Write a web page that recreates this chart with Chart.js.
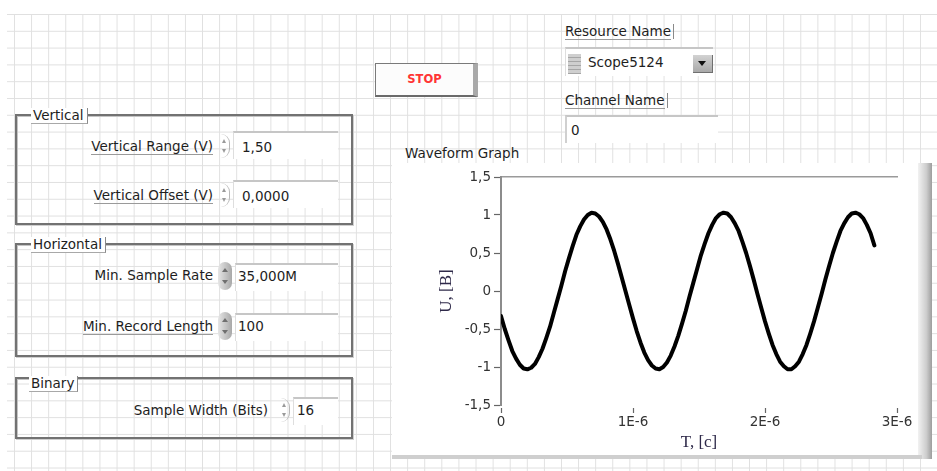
<!DOCTYPE html>
<html lang="ru">
<head>
<meta charset="utf-8">
<title>Waveform Graph</title>
<script src="https://cdn.jsdelivr.net/npm/chart.js@4.4.1/dist/chart.umd.min.js"></script>
<style>
  html, body { margin: 0; padding: 0; }
  body { width: 937px; height: 471px; position: relative; overflow: hidden; background: #fff;
         font-family: "DejaVu Sans", sans-serif; font-size: 13.5px; color: #1e1e1e; }
  .abs { position: absolute; white-space: nowrap; line-height: 16px; }
  #grid { position: absolute; left: 7px; top: 14px; right: 0; bottom: 0;
          background-image: linear-gradient(to right, #e0e0e0 1px, transparent 1px),
                            linear-gradient(to bottom, #e0e0e0 1px, transparent 1px);
          background-size: 17.1px 16.8px; background-position: 7px 0; }
  .frame { position: absolute; box-sizing: border-box; border: 2px solid #727272;
           box-shadow: inset 1px 1px 0 #c4c4c4, 1px 1px 0 #cfcfcf; }
  .tab { position: absolute; background: #fff; line-height: 15px; padding: 0 3px 0 2px;
         border-right: 1px solid #8a8a8a; border-bottom: 1px solid #a8a8a8; }
  .ul { border-bottom: 1px solid #9a9a9a; }
  .num { position: absolute; box-sizing: border-box; background: #fff; height: 28px;
         border-top: 2px solid #c6c6c6; border-left: 1px solid #dedede; }
  .spin { position: absolute; width: 11px; height: 24px; box-sizing: border-box;
          border-right: 1.5px solid #b8b8b8; border-radius: 0 9px 9px 0; }
  .spin::before, .spin::after { content: ""; position: absolute; left: 3px;
          border-left: 2.5px solid transparent; border-right: 2.5px solid transparent; }
  .spin::before { top: 5px; border-bottom: 4px solid #9a9a9a; }
  .spin::after { bottom: 5px; border-top: 4px solid #9a9a9a; }
  .knob { position: absolute; width: 14px; height: 28px; border-radius: 7px;
          background: linear-gradient(to right, #e6e6e6, #a8a8a8); }
  .knob::before, .knob::after { content: ""; position: absolute; left: 4px;
          border-left: 3px solid transparent; border-right: 3px solid transparent; }
  .knob::before { top: 6px; border-bottom: 4px solid #6f6f6f; }
  .knob::after { bottom: 6px; border-top: 4px solid #6f6f6f; }
  #stop { position: absolute; left: 375px; top: 63px; width: 103px; height: 34px; box-sizing: border-box;
          background: #fcfcfc; border: 1px solid #7a7a7a; border-right: 5px solid #a9a9a9;
          border-bottom: 2px solid #6a6a6a; color: #ff3535; font-weight: bold; font-size: 11.5px;
          text-align: center; line-height: 31px; }
  #ring { position: absolute; left: 565px; top: 47px; width: 148px; height: 29px; box-sizing: border-box;
          background: #fff; border-top: 2px solid #c6c6c6; border-left: 1px solid #dedede; }
  #ring .io { position: absolute; left: 2px; top: 5px; width: 13px; height: 20px;
              background: repeating-linear-gradient(to bottom, #cfcfcf 0 3px, #a6a6a6 3px 4px); }
  #ring .btn { position: absolute; left: 127px; top: 6px; width: 19px; height: 17px;
               background: linear-gradient(#d2d2d2, #a9a9a9); border-right: 1px solid #707070; border-bottom: 1px solid #707070; }
  #ring .btn::after { content: ""; position: absolute; left: 5px; top: 6px;
               border-left: 4px solid transparent; border-right: 4px solid transparent; border-top: 5px solid #111; }
  #graph { position: absolute; left: 392px; top: 163px; width: 526px; height: 292px; background: #fff; }
  #shadeR { position: absolute; left: 918px; top: 163px; width: 14px; height: 296px;
            background: linear-gradient(to right, #f2f2f2, #cdcdcd 60%, #9d9d9d); }
  #shadeB { position: absolute; left: 392px; top: 455px; width: 530px; height: 4px; background: #cfcfcf; }
</style>
</head>
<body>
<div id="grid"></div>

<!-- Vertical -->
<div class="frame" style="left:15px; top:114px; width:338px; height:111px;"></div>
<div class="tab" style="left:31px; top:108px;">Vertical</div>
<div class="abs" style="left:40px; top:138px; width:173px; text-align:right;"><span class="ul">Vertical Range (V)</span></div>
<div class="spin" style="left:219px; top:134px;"></div>
<div class="num" style="left:233px; top:131px; width:105px;"></div>
<div class="abs" style="left:242px; top:139px;">1,50</div>
<div class="abs" style="left:40px; top:187px; width:173px; text-align:right;"><span class="ul">Vertical Offset (V)</span></div>
<div class="spin" style="left:219px; top:183px;"></div>
<div class="num" style="left:233px; top:180px; width:105px;"></div>
<div class="abs" style="left:242px; top:188px;">0,0000</div>

<!-- Horizontal -->
<div class="frame" style="left:15px; top:243px; width:338px; height:114px;"></div>
<div class="tab" style="left:31px; top:237px;">Horizontal</div>
<div class="abs" style="left:40px; top:267px; width:173px; text-align:right;">Min. Sample Rate</div>
<div class="knob" style="left:218px; top:262px;"></div>
<div class="num" style="left:235px; top:263px; width:103px;"></div>
<div class="abs" style="left:238px; top:268px;">35,000M</div>
<div class="abs" style="left:40px; top:318px; width:173px; text-align:right;"><span class="ul">Min. Record Length</span></div>
<div class="knob" style="left:218px; top:312px;"></div>
<div class="num" style="left:235px; top:313px; width:103px;"></div>
<div class="abs" style="left:238px; top:318px;">100</div>

<!-- Binary -->
<div class="frame" style="left:15px; top:377px; width:338px; height:62px;"></div>
<div class="tab" style="left:29px; top:376px;">Binary</div>
<div class="abs" style="left:100px; top:402px; width:168px; text-align:right;">Sample Width (Bits)</div>
<div class="spin" style="left:279px; top:398px;"></div>
<div class="num" style="left:293px; top:397px; width:45px;"></div>
<div class="abs" style="left:297px; top:402px;">16</div>

<!-- top controls -->
<div id="stop">STOP</div>
<div class="abs" style="left:565px; top:24px; padding-right:2px; border-right:1px solid #8a8a8a; line-height:15px;"><span class="ul">Resource Name</span></div>
<div id="ring"><div class="io"></div><div class="abs" style="left:22px; top:5px;">Scope5124</div><div class="btn"></div></div>
<div class="abs" style="left:565px; top:93px; padding-right:2px; border-right:1px solid #8a8a8a; line-height:15px;"><span class="ul">Channel Name</span></div>
<div class="num" style="left:565px; top:115px; width:153px; border-left:2px solid #d0d0d0;"></div>
<div class="abs" style="left:571px; top:122px;">0</div>

<!-- graph -->
<div class="abs" style="left:405px; top:145px;">Waveform Graph</div>
<div id="shadeR"></div>
<div id="shadeB"></div>
<div id="graph"><canvas id="wave" width="526" height="292"></canvas></div>

<script>
  // waveform: 100 samples at 35 MS/s (V)
  const sampleRate = 35e6;
  const voltage = [
    -0.33, -0.50, -0.65, -0.79, -0.89, -0.97, -1.02, -1.03, -1.01, -0.96,
    -0.87, -0.76, -0.62, -0.47, -0.29, -0.11, 0.07, 0.26, 0.43, 0.59,
    0.74, 0.85, 0.94, 1.00, 1.03, 1.02, 0.98, 0.91, 0.81, 0.68,
    0.53, 0.36, 0.18, 0.00, -0.18, -0.36, -0.53, -0.68, -0.81, -0.91,
    -0.98, -1.02, -1.03, -1.00, -0.94, -0.85, -0.73, -0.59, -0.43, -0.26,
    -0.07, 0.11, 0.29, 0.47, 0.62, 0.76, 0.87, 0.96, 1.01, 1.03,
    1.02, 0.97, 0.89, 0.79, 0.65, 0.50, 0.33, 0.15, -0.04, -0.22,
    -0.40, -0.56, -0.71, -0.83, -0.93, -0.99, -1.03, -1.03, -0.99, -0.93,
    -0.83, -0.71, -0.56, -0.40, -0.22, -0.04, 0.15, 0.33, 0.50, 0.65,
    0.79, 0.89, 0.97, 1.02, 1.03, 1.01, 0.96, 0.87, 0.76, 0.60
  ];
  const timeTicks = [0, 1e-6, 2e-6, 3e-6];
  const timeTickLabels = ['0', '1E-6', '2E-6', '3E-6'];
  const voltTicks = [-1.5, -1, -0.5, 0, 0.5, 1, 1.5];
  const voltTickLabels = ['-1,5', '-1', '-0,5', '0', '0,5', '1', '1,5'];

  const points = voltage.map((v, i) => ({ x: i / sampleRate, y: v }));
  const axisColor = '#8c8c8c';
  const tickFont = { family: 'DejaVu Sans', size: 13.5 };
  const titleFont = { family: 'Liberation Serif', size: 17 };

  new Chart(document.getElementById('wave'), {
    type: 'line',
    data: {
      datasets: [{
        data: points,
        borderColor: '#000',
        borderWidth: 4,
        pointRadius: 0,
        tension: 0,
        borderJoinStyle: 'round',
        borderCapStyle: 'round'
      }]
    },
    options: {
      responsive: false,
      animation: false,
      layout: { padding: { left: 0, right: 21, top: 14, bottom: 0 } },
      plugins: { legend: { display: false }, tooltip: { enabled: false } },
      scales: {
        x: {
          type: 'linear', min: 0, max: 3e-6,
          afterBuildTicks: s => { s.ticks = timeTicks.map(v => ({ value: v })); },
          afterFit: s => { s.height = 50; },
          ticks: { font: tickFont, color: '#333', padding: 1, maxRotation: 0,
                   callback: (v, i) => timeTickLabels[i] },
          grid: { drawOnChartArea: false, tickLength: 8, color: '#666', tickWidth: 1.2,
                  tickBorderDash: [0, 3, 5, 40] },
          border: { display: false },
          title: { display: true, text: 'T, [c]', font: titleFont, color: '#2f2a4a',
                   padding: { top: 0, bottom: 2 } }
        },
        xTop: {
          type: 'linear', position: 'top', min: 0, max: 3e-6,
          ticks: { display: false },
          grid: { display: false, drawTicks: false },
          border: { display: true, color: '#9a9a9a', width: 1.5 },
          afterFit: s => { s.height = 0; }
        },
        y: {
          min: -1.5, max: 1.5,
          afterBuildTicks: s => { s.ticks = voltTicks.map(v => ({ value: v })); },
          afterFit: s => { s.width = 109; },
          ticks: { font: tickFont, color: '#333', padding: 3,
                   callback: (v, i) => voltTickLabels[i] },
          grid: { drawOnChartArea: false, tickLength: 7, color: '#666', tickWidth: 1.2 },
          border: { display: true, color: axisColor, width: 2 },
          title: { display: true, text: 'U, [B]', font: titleFont, color: '#2f2a4a',
                   padding: { top: 44, bottom: 0 } }
        }
      }
    }
  });
</script>
</body>
</html>
